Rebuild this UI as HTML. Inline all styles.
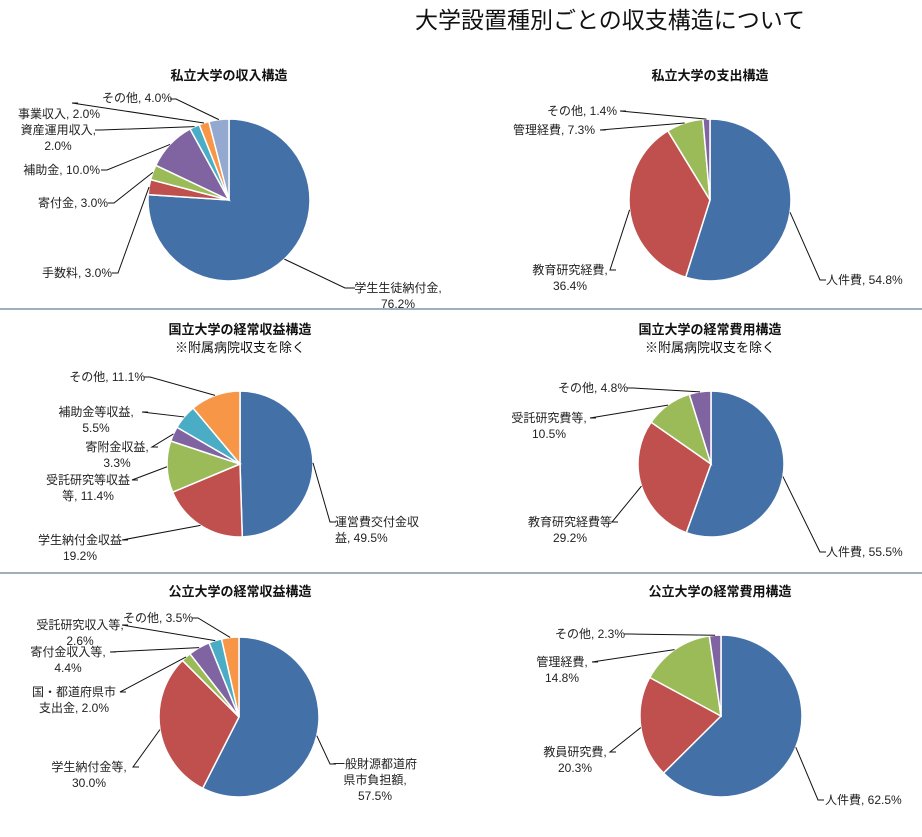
<!DOCTYPE html>
<html><head><meta charset="utf-8">
<style>
html,body{margin:0;padding:0;background:#fff;}
body{width:922px;height:832px;overflow:hidden;position:relative;font-family:"Liberation Sans","Noto Sans CJK JP",sans-serif;}
svg text{font-family:"Liberation Sans","Noto Sans CJK JP",sans-serif;}
</style></head>
<body>
<svg id="chart" width="922" height="832" viewBox="0 0 922 832" xmlns="http://www.w3.org/2000/svg">
<text x="610" y="28" text-anchor="middle" font-size="23" fill="#111">大学設置種別ごとの収支構造について</text>
<line x1="0" y1="309" x2="922" y2="309" stroke="#7f95a8" stroke-width="1.5"/>
<line x1="0" y1="573" x2="922" y2="573" stroke="#7f95a8" stroke-width="1.5"/>
</svg>
<script>
// ---- data ----
const c1Labels = ["学生生徒納付金","手数料","寄付金","補助金","資産運用収入","事業収入","その他"];
const c1Values = [76.2,3.0,3.0,10.0,2.0,2.0,4.0];
const c2Labels = ["人件費","教育研究経費","管理経費","その他"];
const c2Values = [54.8,36.4,7.3,1.4];
const c3Labels = ["運営費交付金収益","学生納付金収益","受託研究等収益等","寄附金収益","補助金等収益","その他"];
const c3Values = [49.5,19.2,11.4,3.3,5.5,11.1];
const c4Labels = ["人件費","教育研究経費等","受託研究費等","その他"];
const c4Values = [55.5,29.2,10.5,4.8];
const c5Labels = ["一般財源都道府県市負担額","学生納付金等","国・都道府県市支出金","寄付金収入等","受託研究収入等","その他"];
const c5Values = [57.5,30.0,2.0,4.4,2.6,3.5];
const c6Labels = ["人件費","教員研究費","管理経費","その他"];
const c6Values = [62.5,20.3,14.8,2.3];
const c1Title = "私立大学の収入構造", c2Title = "私立大学の支出構造";
const c3Title = "国立大学の経常収益構造", c4Title = "国立大学の経常費用構造";
const c5Title = "公立大学の経常収益構造", c6Title = "公立大学の経常費用構造";

// ---- layout (not data) ----
const COLORS = ["#4470a8","#c0504d","#9bbb59","#8064a2","#4bacc6","#f79646","#93a9d0"];
// label text lines (after first line, value appended per layout), text x, first baseline, elbow x,y
const charts = [
 {title:c1Title, sub:null, labels:c1Labels, values:c1Values, cx:229, cy:200, r:81, tx:229, ty:80, fmt:[
   {lines:["学生生徒納付金,","{v}"], x:398, y:292, a:"middle", ex:345, ey:288, hx:355},
   {lines:["手数料, {v}"], x:112, y:277, a:"end", ex:118, ey:273},
   {lines:["寄付金, {v}"], x:108, y:207, a:"end", ex:114, ey:203},
   {lines:["補助金, {v}"], x:100, y:174, a:"end", ex:107, ey:170},
   {lines:["資産運用収入,","{v}"], x:96, y:134, a:"end", ex:101, ey:130, l2x:58},
   {lines:["事業収入, {v}"], x:18, y:118, a:"start", ex:72, ey:103},
   {lines:["その他, {v}"], x:172, y:102, a:"end", ex:176, ey:99}]},
 {title:c2Title, sub:null, labels:c2Labels, values:c2Values, cx:710, cy:200, r:81, tx:710, ty:80, fmt:[
   {lines:["人件費, {v}"], x:826, y:284, a:"start", ex:820, ey:280},
   {lines:["教育研究経費,","{v}"], x:570, y:274, a:"middle", ex:610, ey:270},
   {lines:["管理経費, {v}"], x:513, y:134, a:"start", ex:600, ey:130},
   {lines:["その他, {v}"], x:547, y:115, a:"start", ex:620, ey:111}]},
 {title:c3Title, sub:"※附属病院収支を除く", labels:c3Labels, values:c3Values, cx:240, cy:464, r:73, tx:240, ty:334, fmt:[
   {lines:["運営費交付金収","益, {v}"], x:335, y:526, a:"start", ex:330, ey:522},
   {lines:["学生納付金収益","{v}"], x:80, y:544, a:"middle", ex:122, ey:540},
   {lines:["受託研究等収益","等, {v}"], x:88, y:484, a:"middle", ex:132, ey:480},
   {lines:["寄附金収益,","{v}"], x:117, y:451, a:"middle", ex:152, ey:447},
   {lines:["補助金等収益,","{v}"], x:96, y:416, a:"middle", ex:142, ey:412},
   {lines:["その他, {v}"], x:145, y:381, a:"end", ex:150, ey:377}]},
 {title:c4Title, sub:"※附属病院収支を除く", labels:c4Labels, values:c4Values, cx:711, cy:464, r:73, tx:710, ty:334, fmt:[
   {lines:["人件費, {v}"], x:826, y:556, a:"start", ex:820, ey:552},
   {lines:["教育研究経費等","{v}"], x:570, y:526, a:"middle", ex:612, ey:522},
   {lines:["受託研究費等,","{v}"], x:549, y:422, a:"middle", ex:590, ey:418},
   {lines:["その他, {v}"], x:628, y:392, a:"end", ex:633, ey:388}]},
 {title:c5Title, sub:null, labels:c5Labels, values:c5Values, cx:239, cy:717, r:80, tx:240, ty:596, fmt:[
   {lines:["一般財源都道府","県市負担額,","{v}"], x:375, y:768, a:"middle", ex:330, ey:764},
   {lines:["学生納付金等,","{v}"], x:89, y:771, a:"middle", ex:133, ey:767},
   {lines:["国・都道府県市","支出金, {v}"], x:74, y:696, a:"middle", ex:120, ey:692},
   {lines:["寄付金収入等,","{v}"], x:68, y:656, a:"middle", ex:110, ey:652},
   {lines:["受託研究収入等,","{v}"], x:80, y:629, a:"middle", ex:122, ey:625},
   {lines:["その他, {v}"], x:193, y:622, a:"end", ex:198, ey:618}]},
 {title:c6Title, sub:null, labels:c6Labels, values:c6Values, cx:721, cy:716, r:81, tx:720, ty:596, fmt:[
   {lines:["人件費, {v}"], x:825, y:804, a:"start", ex:818, ey:800},
   {lines:["教員研究費,","{v}"], x:575, y:756, a:"middle", ex:610, ey:752},
   {lines:["管理経費,","{v}"], x:562, y:666, a:"middle", ex:592, ey:662},
   {lines:["その他, {v}"], x:625, y:638, a:"end", ex:630, ey:634}]}
];

const NS = "http://www.w3.org/2000/svg";
const svg = document.getElementById("chart");
function mk(tag, attrs){const e=document.createElementNS(NS,tag);for(const k in attrs)e.setAttribute(k,attrs[k]);return e;}
function pt(cx,cy,r,ang){return [cx+r*Math.sin(ang), cy-r*Math.cos(ang)];}

charts.forEach((c,ci)=>{
  const g = mk("g",{});
  
  
  svg.appendChild(g);
  const t = mk("text",{x:c.tx,y:c.ty,"text-anchor":"middle","font-size":"13","font-weight":"bold",fill:"#111"});
  
  
  t.textContent = c.title; g.appendChild(t);
  if(c.sub){
    const s = mk("text",{x:c.tx,y:c.ty+18,"text-anchor":"middle","font-size":"13",fill:"#111"});
    
    
    s.textContent = c.sub; g.appendChild(s);
  }
  const total = c.values.reduce((a,b)=>a+b,0);
  let acc = 0;
  c.values.forEach((v,i)=>{
    const a0 = acc/total*2*Math.PI; acc += v; const a1 = acc/total*2*Math.PI;
    const p0 = pt(c.cx,c.cy,c.r,a0), p1 = pt(c.cx,c.cy,c.r,a1);
    const large = (a1-a0)>Math.PI?1:0;
    const path = mk("path",{d:`M${c.cx},${c.cy} L${p0[0]},${p0[1]} A${c.r},${c.r} 0 ${large} 1 ${p1[0]},${p1[1]} Z`,
      fill:COLORS[i%COLORS.length],stroke:"#fff","stroke-width":"1.5"});
    
    
    g.appendChild(path);
    const f = c.fmt[i]; if(!f) return;
    const am = (a0+a1)/2;
    const pm = pt(c.cx,c.cy,c.r,am);
    const hx = f.hx!==undefined ? f.hx : (f.a==="end"? f.ex-6 : f.ex+6);
    const ln = mk("polyline",{points:`${pm[0]},${pm[1]} ${f.ex},${f.ey} ${hx},${f.ey}`,fill:"none",stroke:"#111","stroke-width":"1"});
    
    
    g.appendChild(ln);
    const txt = mk("text",{x:f.x,y:f.y,"text-anchor":f.a,"font-size":"12",fill:"#222"});
    
    
    f.lines.forEach((L,li)=>{
      const ts = mk("tspan",{x:(li>0&&f.l2x!==undefined)?f.l2x:f.x, dy: li===0?0:16});
      if(li>0&&f.l2x!==undefined) ts.setAttribute("text-anchor","middle");
      ts.textContent = L.replace("{v}", v.toFixed(1)+"%");
      txt.appendChild(ts);
    });
    g.appendChild(txt);
  });
});
</script>
</body></html>
